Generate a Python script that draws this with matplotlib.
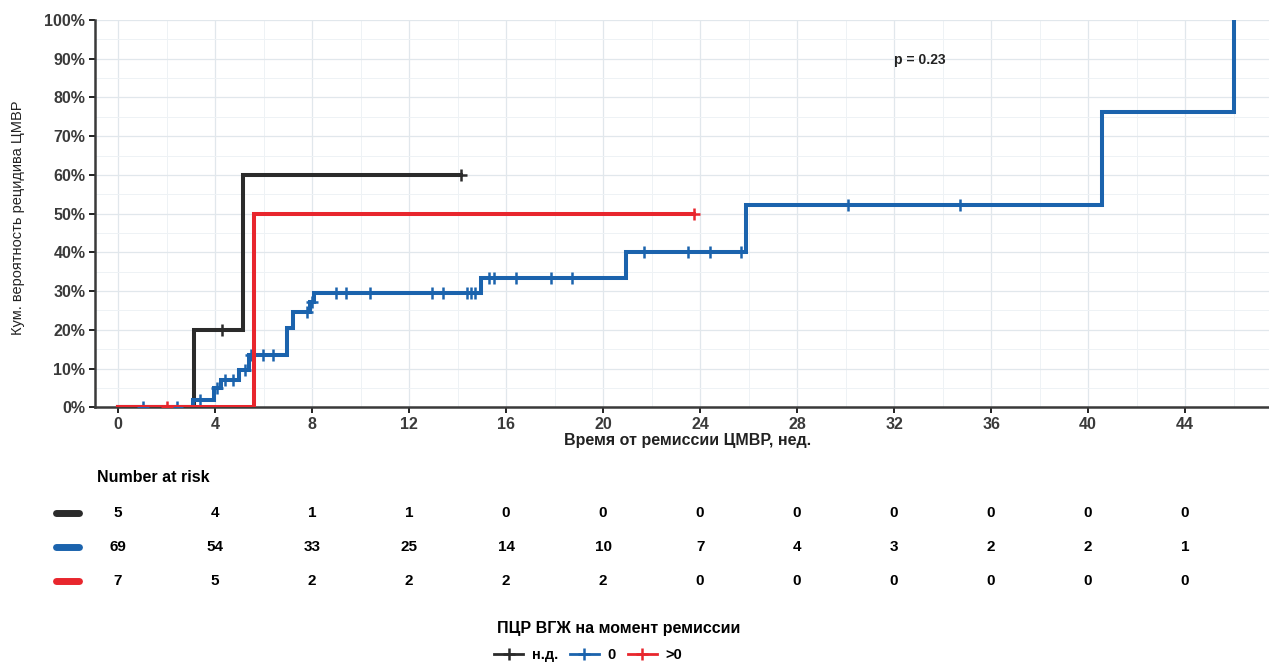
import numpy as np
import matplotlib
matplotlib.use('Agg')
import matplotlib.pyplot as plt
import matplotlib.transforms as mtransforms
from matplotlib.lines import Line2D

plt.rcParams['font.family'] = ['Liberation Sans', 'DejaVu Sans']

# группы: н.д., 0, >0
groups = ['н.д.', '0', '>0']
colors = ['#2b2b2b', '#1b63ad', '#e8262d']

# моменты событий и кумулятивная вероятность (ступенчатая функция)
nd_t = [0, 3.13, 5.14, 14.15]
nd_y = [0, 0.20, 0.60, 0.60]
nd_cens = [4.3, 14.15]

zero_t = [0, 3.1, 3.95, 4.25, 5.0, 5.4, 6.97, 7.2, 7.9, 8.08, 14.97, 20.95, 25.9, 40.56, 46.0]
zero_y = [0, 0.019, 0.049, 0.070, 0.096, 0.135, 0.204, 0.247, 0.273, 0.294, 0.333, 0.402, 0.522, 0.762, 1.0]
zero_cens = [1.04, 2.45, 3.38, 4.1, 4.4, 4.75, 5.25, 5.5, 5.98, 6.39, 7.8, 8.0, 9.0, 9.4, 10.4,
             12.95, 13.4, 14.4, 14.55, 14.7, 15.3, 15.5, 16.4, 17.85, 18.7, 21.7, 23.5,
             24.4, 25.7, 30.1, 34.7]

pos_t = [0, 5.6, 23.75]
pos_y = [0, 0.50, 0.50]
pos_cens = [2.0, 23.75]

p_text = 'p = 0.23'

# Number at risk
risk_times = [0, 4, 8, 12, 16, 20, 24, 28, 32, 36, 40, 44]
risk_nd = [5, 4, 1, 1, 0, 0, 0, 0, 0, 0, 0, 0]
risk_zero = [69, 54, 33, 25, 14, 10, 7, 4, 3, 2, 2, 1]
risk_pos = [7, 5, 2, 2, 2, 2, 0, 0, 0, 0, 0, 0]

W, H = 1269, 663
fig = plt.figure(figsize=(W / 100, H / 100), dpi=100)
ax = fig.add_axes([95 / W, 1 - 407.3 / H, 1 - 95 / W, (407.3 - 20) / H])

def step_val(ts, ys, x):
    i = np.searchsorted(ts, x, side='right') - 1
    return ys[i]

curves = [(zero_t, zero_y, zero_cens, 1), (nd_t, nd_y, nd_cens, 0), (pos_t, pos_y, pos_cens, 2)]
for ts, ys, cens, k in curves:
    ax.step(ts, ys, where='post', color=colors[k], lw=2.9, solid_joinstyle='miter', zorder=3 + k)
    cy = [step_val(np.array(ts), ys, c) for c in cens]
    ax.plot(cens, cy, ls='none', marker='+', ms=8, mew=1.8, color=colors[k], zorder=3 + k)

ax.set_xlim(-0.95, 47.46)
ax.set_ylim(0, 1)
ax.set_xticks(np.arange(0, 48, 4))
ax.set_xticks(np.arange(0, 48, 2), minor=True)
ax.set_yticks(np.arange(0, 1.01, 0.1))
ax.set_yticks(np.arange(0, 1.01, 0.05), minor=True)
ax.set_yticklabels(['%d%%' % v for v in range(0, 101, 10)])
ax.grid(which='major', color='#e1e7ec', lw=0.9)
ax.grid(which='minor', color='#eef2f5', lw=0.7)
ax.set_axisbelow(True)
for s in ['top', 'right']:
    ax.spines[s].set_visible(False)
for s in ['left', 'bottom']:
    ax.spines[s].set_linewidth(1.8)
    ax.spines[s].set_color('#3a3a3a')
ax.tick_params(which='major', length=4, width=1.4, color='#222222', labelsize=11.5,
               labelcolor='#3a3a3a', pad=3)
ax.tick_params(which='minor', length=0)
for lab in ax.get_xticklabels() + ax.get_yticklabels():
    lab.set_fontweight('bold')

ax.text(32.0, 0.897, p_text, fontsize=10, fontweight='bold', va='center', ha='left', color='#222222')

fig.text(18 / W, 1 - 218 / H, 'Кум. вероятность рецидива ЦМВР', rotation=90, ha='center', va='center',
         fontsize=10.5, color='#222222')
fig.text(688 / W, 1 - 440 / H, 'Время от ремиссии ЦМВР, нед.', ha='center', va='center',
         fontsize=11.5, fontweight='bold', color='#222222')

# таблица Number at risk
tr = mtransforms.blended_transform_factory(ax.transData, fig.transFigure)
fig.text(97 / W, 1 - 477 / H, 'Number at risk', ha='left', va='center', fontsize=11.5, fontweight='bold')
rows = [risk_nd, risk_zero, risk_pos]
row_y = [513, 547, 581]
for k in range(3):
    yy = 1 - row_y[k] / H
    fig.add_artist(Line2D([56 / W, 79 / W], [yy, yy], color=colors[k], lw=5, solid_capstyle='round'))
    for t, n in zip(risk_times, rows[k]):
        fig.text(t, yy, str(n), transform=tr, ha='center', va='center', fontsize=11, fontweight='bold')

# легенда
fig.text(497 / W, 1 - 628 / H, 'ПЦР ВГЖ на момент ремиссии', ha='left', va='center',
         fontsize=11.5, fontweight='bold')
handles = [Line2D([], [], color=colors[k], lw=2, marker='+', ms=9, mew=1.8) for k in range(3)]
leg = fig.legend(handles, groups, loc='center left', bbox_to_anchor=(494 / W, 1 - 655 / H), ncol=3,
                 frameon=False, prop={'size': 10.5, 'weight': 'bold'}, handlelength=2.0,
                 handletextpad=0.6, columnspacing=0.8, borderpad=0, borderaxespad=0)

fig.savefig('out.png', dpi=100)
